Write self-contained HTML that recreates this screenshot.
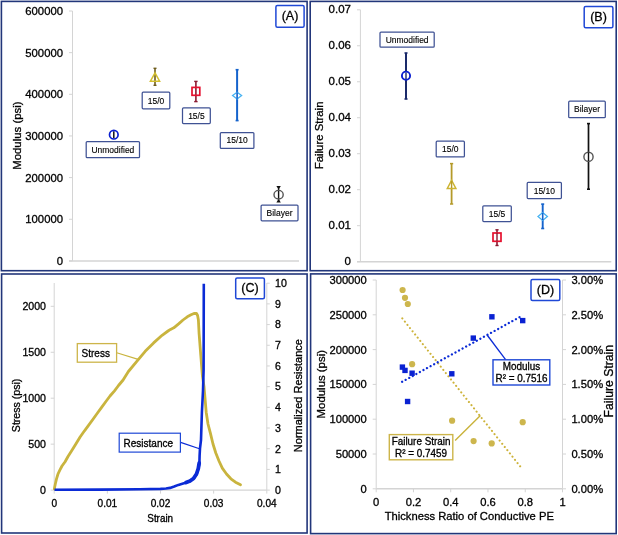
<!DOCTYPE html>
<html><head><meta charset="utf-8"><title>Figure</title>
<style>
html,body{margin:0;padding:0;background:#fff;width:618px;height:535px;overflow:hidden}
svg{display:block;font-family:"Liberation Sans", sans-serif;will-change:transform}
text{stroke:#000;stroke-width:0.3px;paint-order:stroke}
</style></head><body>
<svg width="618" height="535" viewBox="0 0 618 535">
<rect x="0" y="0" width="618" height="535" fill="#fff"/>
<rect x="1.4" y="1.4" width="305.7" height="269.3" fill="none" stroke="#22367a" stroke-width="1.6"/>
<rect x="310.2" y="1.4" width="306" height="269.3" fill="none" stroke="#22367a" stroke-width="1.6"/>
<rect x="1.6" y="274" width="305.5" height="259" fill="none" stroke="#22367a" stroke-width="1.6"/>
<rect x="310.6" y="273.9" width="305.6" height="259.7" fill="none" stroke="#22367a" stroke-width="1.6"/>
<line x1="72.5" y1="11.0" x2="72.5" y2="260.9" stroke="#d4d4d4" stroke-width="1" />
<line x1="69" y1="260.9" x2="299" y2="260.9" stroke="#d4d4d4" stroke-width="1.5" />
<line x1="69" y1="11.0" x2="72.5" y2="11.0" stroke="#d4d4d4" stroke-width="1" />
<text x="63" y="15.05" font-size="11.3" text-anchor="end" fill="#000" >600000</text>
<line x1="69" y1="52.65" x2="72.5" y2="52.65" stroke="#d4d4d4" stroke-width="1" />
<text x="63" y="56.7" font-size="11.3" text-anchor="end" fill="#000" >500000</text>
<line x1="69" y1="94.3" x2="72.5" y2="94.3" stroke="#d4d4d4" stroke-width="1" />
<text x="63" y="98.35" font-size="11.3" text-anchor="end" fill="#000" >400000</text>
<line x1="69" y1="135.95" x2="72.5" y2="135.95" stroke="#d4d4d4" stroke-width="1" />
<text x="63" y="140.0" font-size="11.3" text-anchor="end" fill="#000" >300000</text>
<line x1="69" y1="177.6" x2="72.5" y2="177.6" stroke="#d4d4d4" stroke-width="1" />
<text x="63" y="181.65" font-size="11.3" text-anchor="end" fill="#000" >200000</text>
<line x1="69" y1="219.25" x2="72.5" y2="219.25" stroke="#d4d4d4" stroke-width="1" />
<text x="63" y="223.3" font-size="11.3" text-anchor="end" fill="#000" >100000</text>
<line x1="69" y1="260.9" x2="72.5" y2="260.9" stroke="#d4d4d4" stroke-width="1" />
<text x="63" y="264.95" font-size="11.3" text-anchor="end" fill="#000" >0</text>
<text transform="translate(20.6,135.6) rotate(-90)" font-size="11.4" text-anchor="middle" fill="#000">Modulus (psi)</text>
<rect x="275.9" y="5.4" width="28.200000000000045" height="21.799999999999997" stroke="#1f48d6" stroke-width="1.5" fill="#fff" rx="1.5"/>
<text x="290.0" y="20.17" font-size="12.5" text-anchor="middle" fill="#000" >(A)</text>
<line x1="113.8" y1="131.2" x2="113.8" y2="138.2" stroke="#111" stroke-width="1.5" />
<circle cx="113.8" cy="134.7" r="4.3" fill="none" stroke="#0a1fd0" stroke-width="1.7"/>
<rect x="86.2" y="141.5" width="53.3" height="16.19999999999999" stroke="#3f5294" stroke-width="1.25" fill="#fff" rx="1"/>
<text transform="translate(112.85,152.64) scale(1,1.12)" font-size="8.5" text-anchor="middle" fill="#000" style="stroke-width:0.12px">Unmodified</text>
<line x1="155" y1="68.3" x2="155" y2="85.3" stroke="#6e5c1c" stroke-width="1.6" />
<line x1="153.5" y1="68.3" x2="156.5" y2="68.3" stroke="#6e5c1c" stroke-width="1.4" />
<line x1="153.5" y1="85.3" x2="156.5" y2="85.3" stroke="#6e5c1c" stroke-width="1.4" />
<polygon points="155,72.8 150.4,81.2 159.6,81.2" fill="none" stroke="#d3bf2e" stroke-width="1.5"/>
<rect x="142.2" y="92.2" width="27.600000000000023" height="16.599999999999994" stroke="#3f5294" stroke-width="1.25" fill="#fff" rx="1"/>
<text transform="translate(156.0,103.54) scale(1,1.12)" font-size="8.5" text-anchor="middle" fill="#000" style="stroke-width:0.12px">15/0</text>
<line x1="195.9" y1="81.4" x2="195.9" y2="101.6" stroke="#8a1a30" stroke-width="1.6" />
<line x1="194.2" y1="81.4" x2="197.6" y2="81.4" stroke="#8a1a30" stroke-width="1.4" />
<line x1="194.2" y1="101.6" x2="197.6" y2="101.6" stroke="#8a1a30" stroke-width="1.4" />
<rect x="192" y="87.4" width="7.8" height="7.9" fill="none" stroke="#e5102e" stroke-width="1.7"/>
<rect x="182.5" y="107.9" width="27.80000000000001" height="15.699999999999989" stroke="#3f5294" stroke-width="1.25" fill="#fff" rx="1"/>
<text transform="translate(196.4,118.79) scale(1,1.12)" font-size="8.5" text-anchor="middle" fill="#000" style="stroke-width:0.12px">15/5</text>
<line x1="237.1" y1="69.7" x2="237.1" y2="120.6" stroke="#1563cc" stroke-width="2" />
<line x1="235.6" y1="69.7" x2="238.6" y2="69.7" stroke="#1563cc" stroke-width="1.6" />
<line x1="235.6" y1="120.6" x2="238.6" y2="120.6" stroke="#1563cc" stroke-width="1.6" />
<polygon points="237.1,92.2 241.6,95.6 237.1,99 232.6,95.6" fill="#fff" stroke="#46b2f2" stroke-width="1.3"/>
<line x1="237.1" y1="92.5" x2="237.1" y2="98.7" stroke="#1563cc" stroke-width="1.6" />
<rect x="220.3" y="132.5" width="33.599999999999994" height="15.900000000000006" stroke="#3f5294" stroke-width="1.25" fill="#fff" rx="1"/>
<text transform="translate(237.10000000000002,143.49) scale(1,1.12)" font-size="8.5" text-anchor="middle" fill="#000" style="stroke-width:0.12px">15/10</text>
<line x1="278.6" y1="187.5" x2="278.6" y2="201.5" stroke="#111" stroke-width="1.4" />
<polygon points="276.4,186.1 280.8,186.1 278.6,189.6" fill="#111"/>
<polygon points="276.4,202.6 280.8,202.6 278.6,199.1" fill="#111"/>
<ellipse cx="278.6" cy="194.7" rx="4.6" ry="4.3" fill="none" stroke="#555" stroke-width="1.4"/>
<rect x="261.1" y="205.1" width="36.89999999999998" height="15.700000000000017" stroke="#3f5294" stroke-width="1.25" fill="#fff" rx="1"/>
<text transform="translate(279.55,215.99) scale(1,1.12)" font-size="8.5" text-anchor="middle" fill="#000" style="stroke-width:0.12px">Bilayer</text>
<line x1="360.4" y1="9.8" x2="360.4" y2="261.65999999999997" stroke="#d4d4d4" stroke-width="1" />
<line x1="357" y1="261.65999999999997" x2="611.3" y2="261.65999999999997" stroke="#d4d4d4" stroke-width="1.5" />
<line x1="357" y1="9.8" x2="360.4" y2="9.8" stroke="#d4d4d4" stroke-width="1" />
<text x="351" y="13.1" font-size="11.5" text-anchor="end" fill="#000" >0.07</text>
<line x1="357" y1="45.78" x2="360.4" y2="45.78" stroke="#d4d4d4" stroke-width="1" />
<text x="351" y="49.08" font-size="11.5" text-anchor="end" fill="#000" >0.06</text>
<line x1="357" y1="81.75999999999999" x2="360.4" y2="81.75999999999999" stroke="#d4d4d4" stroke-width="1" />
<text x="351" y="85.06" font-size="11.5" text-anchor="end" fill="#000" >0.05</text>
<line x1="357" y1="117.74" x2="360.4" y2="117.74" stroke="#d4d4d4" stroke-width="1" />
<text x="351" y="121.04" font-size="11.5" text-anchor="end" fill="#000" >0.04</text>
<line x1="357" y1="153.72" x2="360.4" y2="153.72" stroke="#d4d4d4" stroke-width="1" />
<text x="351" y="157.02" font-size="11.5" text-anchor="end" fill="#000" >0.03</text>
<line x1="357" y1="189.7" x2="360.4" y2="189.7" stroke="#d4d4d4" stroke-width="1" />
<text x="351" y="193.0" font-size="11.5" text-anchor="end" fill="#000" >0.02</text>
<line x1="357" y1="225.68" x2="360.4" y2="225.68" stroke="#d4d4d4" stroke-width="1" />
<text x="351" y="228.98" font-size="11.5" text-anchor="end" fill="#000" >0.01</text>
<line x1="357" y1="261.65999999999997" x2="360.4" y2="261.65999999999997" stroke="#d4d4d4" stroke-width="1" />
<text x="351" y="264.96" font-size="11.5" text-anchor="end" fill="#000" >0</text>
<text transform="translate(322.7,135.4) rotate(-90)" font-size="11.4" text-anchor="middle" fill="#000">Failure Strain</text>
<rect x="584.2" y="6.6" width="28.699999999999932" height="21.1" stroke="#1f48d6" stroke-width="1.5" fill="#fff" rx="1.5"/>
<text x="598.55" y="21.02" font-size="12.5" text-anchor="middle" fill="#000" >(B)</text>
<line x1="406" y1="53" x2="406" y2="99" stroke="#1a2a6a" stroke-width="2" />
<line x1="404.5" y1="53" x2="407.5" y2="53" stroke="#1a2a6a" stroke-width="1.6" />
<line x1="404.5" y1="99" x2="407.5" y2="99" stroke="#1a2a6a" stroke-width="1.6" />
<circle cx="406" cy="75.7" r="4.1" fill="#fff" stroke="#0a1fd0" stroke-width="1.9"/>
<line x1="406" y1="72.5" x2="406" y2="79" stroke="#1a2a6a" stroke-width="1.4" />
<rect x="380" y="32" width="54.19999999999999" height="15.200000000000003" stroke="#3f5294" stroke-width="1.25" fill="#fff" rx="1"/>
<text transform="translate(407.1,42.64) scale(1,1.12)" font-size="8.5" text-anchor="middle" fill="#000" style="stroke-width:0.12px">Unmodified</text>
<line x1="451.6" y1="163.6" x2="451.6" y2="204" stroke="#b49a2a" stroke-width="1.8" />
<line x1="450" y1="163.6" x2="453.2" y2="163.6" stroke="#b49a2a" stroke-width="1.5" />
<line x1="450" y1="204" x2="453.2" y2="204" stroke="#b49a2a" stroke-width="1.5" />
<polygon points="451.6,180.3 447.3,188.5 455.9,188.5" fill="#fff" stroke="#cdb433" stroke-width="1.5"/>
<line x1="451.6" y1="181" x2="451.6" y2="188" stroke="#b49a2a" stroke-width="1.4" />
<rect x="436.2" y="141.2" width="28.19999999999999" height="15.700000000000017" stroke="#3f5294" stroke-width="1.25" fill="#fff" rx="1"/>
<text transform="translate(450.29999999999995,152.09) scale(1,1.12)" font-size="8.5" text-anchor="middle" fill="#000" style="stroke-width:0.12px">15/0</text>
<line x1="497" y1="229.8" x2="497" y2="245.5" stroke="#8a1a30" stroke-width="1.6" />
<line x1="495.4" y1="229.8" x2="498.6" y2="229.8" stroke="#8a1a30" stroke-width="1.4" />
<line x1="495.4" y1="245.5" x2="498.6" y2="245.5" stroke="#8a1a30" stroke-width="1.4" />
<rect x="493" y="233" width="8" height="8.3" fill="#fff" stroke="#e5102e" stroke-width="1.7"/>
<line x1="497" y1="233" x2="497" y2="241.3" stroke="#8a1a30" stroke-width="1.4" />
<rect x="482.8" y="205.8" width="28.5" height="15.699999999999989" stroke="#3f5294" stroke-width="1.25" fill="#fff" rx="1"/>
<text transform="translate(497.05,216.69) scale(1,1.12)" font-size="8.5" text-anchor="middle" fill="#000" style="stroke-width:0.12px">15/5</text>
<line x1="542.7" y1="204.1" x2="542.7" y2="228.5" stroke="#1563cc" stroke-width="1.9" />
<line x1="541.2" y1="204.1" x2="544.2" y2="204.1" stroke="#1563cc" stroke-width="1.6" />
<line x1="541.2" y1="228.5" x2="544.2" y2="228.5" stroke="#1563cc" stroke-width="1.6" />
<polygon points="542.7,212.5 547.4,216.5 542.7,220.5 538,216.5" fill="#fff" stroke="#46b2f2" stroke-width="1.3"/>
<line x1="542.7" y1="212.8" x2="542.7" y2="220.2" stroke="#1563cc" stroke-width="1.6" />
<rect x="527.2" y="182.4" width="34.19999999999993" height="16.19999999999999" stroke="#3f5294" stroke-width="1.25" fill="#fff" rx="1"/>
<text transform="translate(544.3,193.54) scale(1,1.12)" font-size="8.5" text-anchor="middle" fill="#000" style="stroke-width:0.12px">15/10</text>
<line x1="588.5" y1="123.6" x2="588.5" y2="189.2" stroke="#111" stroke-width="1.7" />
<line x1="587" y1="123.6" x2="590" y2="123.6" stroke="#111" stroke-width="1.6" />
<line x1="587" y1="189.2" x2="590" y2="189.2" stroke="#111" stroke-width="1.6" />
<circle cx="588.5" cy="156.8" r="4.6" fill="#fff" stroke="#555" stroke-width="1.4"/>
<line x1="588.5" y1="152.5" x2="588.5" y2="161" stroke="#111" stroke-width="1.4" />
<rect x="568.7" y="101.2" width="36.59999999999991" height="16.5" stroke="#3f5294" stroke-width="1.25" fill="#fff" rx="1"/>
<text transform="translate(587.0,112.49) scale(1,1.12)" font-size="8.5" text-anchor="middle" fill="#000" style="stroke-width:0.12px">Bilayer</text>
<line x1="54.2" y1="283" x2="54.2" y2="490.1" stroke="#d4d4d4" stroke-width="1" />
<line x1="266.8" y1="283" x2="266.8" y2="490.1" stroke="#d4d4d4" stroke-width="1" />
<line x1="54.2" y1="490.1" x2="266.8" y2="490.1" stroke="#d4d4d4" stroke-width="1.4" />
<line x1="50.7" y1="490.1" x2="54.2" y2="490.1" stroke="#d4d4d4" stroke-width="1" />
<text x="46" y="493.9" font-size="10.6" text-anchor="end" fill="#000" >0</text>
<line x1="50.7" y1="444.15000000000003" x2="54.2" y2="444.15000000000003" stroke="#d4d4d4" stroke-width="1" />
<text x="46" y="447.95" font-size="10.6" text-anchor="end" fill="#000" >500</text>
<line x1="50.7" y1="398.20000000000005" x2="54.2" y2="398.20000000000005" stroke="#d4d4d4" stroke-width="1" />
<text x="46" y="402.0" font-size="10.6" text-anchor="end" fill="#000" >1000</text>
<line x1="50.7" y1="352.25" x2="54.2" y2="352.25" stroke="#d4d4d4" stroke-width="1" />
<text x="46" y="356.05" font-size="10.6" text-anchor="end" fill="#000" >1500</text>
<line x1="50.7" y1="306.3" x2="54.2" y2="306.3" stroke="#d4d4d4" stroke-width="1" />
<text x="46" y="310.1" font-size="10.6" text-anchor="end" fill="#000" >2000</text>
<line x1="266.8" y1="490.1" x2="269.8" y2="490.1" stroke="#d4d4d4" stroke-width="1" />
<text x="275" y="493.9" font-size="10.6" text-anchor="start" fill="#000" >0</text>
<line x1="266.8" y1="469.41" x2="269.8" y2="469.41" stroke="#d4d4d4" stroke-width="1" />
<text x="275" y="473.21" font-size="10.6" text-anchor="start" fill="#000" >1</text>
<line x1="266.8" y1="448.72" x2="269.8" y2="448.72" stroke="#d4d4d4" stroke-width="1" />
<text x="275" y="452.52" font-size="10.6" text-anchor="start" fill="#000" >2</text>
<line x1="266.8" y1="428.03000000000003" x2="269.8" y2="428.03000000000003" stroke="#d4d4d4" stroke-width="1" />
<text x="275" y="431.83" font-size="10.6" text-anchor="start" fill="#000" >3</text>
<line x1="266.8" y1="407.34000000000003" x2="269.8" y2="407.34000000000003" stroke="#d4d4d4" stroke-width="1" />
<text x="275" y="411.14" font-size="10.6" text-anchor="start" fill="#000" >4</text>
<line x1="266.8" y1="386.65" x2="269.8" y2="386.65" stroke="#d4d4d4" stroke-width="1" />
<text x="275" y="390.45" font-size="10.6" text-anchor="start" fill="#000" >5</text>
<line x1="266.8" y1="365.96" x2="269.8" y2="365.96" stroke="#d4d4d4" stroke-width="1" />
<text x="275" y="369.76" font-size="10.6" text-anchor="start" fill="#000" >6</text>
<line x1="266.8" y1="345.27" x2="269.8" y2="345.27" stroke="#d4d4d4" stroke-width="1" />
<text x="275" y="349.07" font-size="10.6" text-anchor="start" fill="#000" >7</text>
<line x1="266.8" y1="324.58" x2="269.8" y2="324.58" stroke="#d4d4d4" stroke-width="1" />
<text x="275" y="328.38" font-size="10.6" text-anchor="start" fill="#000" >8</text>
<line x1="266.8" y1="303.89" x2="269.8" y2="303.89" stroke="#d4d4d4" stroke-width="1" />
<text x="275" y="307.69" font-size="10.6" text-anchor="start" fill="#000" >9</text>
<line x1="266.8" y1="283.2" x2="269.8" y2="283.2" stroke="#d4d4d4" stroke-width="1" />
<text x="275" y="287.0" font-size="10.6" text-anchor="start" fill="#000" >10</text>
<line x1="54.2" y1="490.1" x2="54.2" y2="493.6" stroke="#d4d4d4" stroke-width="1" />
<text x="54.2" y="507.2" font-size="10.1" text-anchor="middle" fill="#000" >0</text>
<line x1="107.35000000000001" y1="490.1" x2="107.35000000000001" y2="493.6" stroke="#d4d4d4" stroke-width="1" />
<text x="107.35" y="507.2" font-size="10.1" text-anchor="middle" fill="#000" >0.01</text>
<line x1="160.5" y1="490.1" x2="160.5" y2="493.6" stroke="#d4d4d4" stroke-width="1" />
<text x="160.5" y="507.2" font-size="10.1" text-anchor="middle" fill="#000" >0.02</text>
<line x1="213.65000000000003" y1="490.1" x2="213.65000000000003" y2="493.6" stroke="#d4d4d4" stroke-width="1" />
<text x="213.65" y="507.2" font-size="10.1" text-anchor="middle" fill="#000" >0.03</text>
<line x1="266.8" y1="490.1" x2="266.8" y2="493.6" stroke="#d4d4d4" stroke-width="1" />
<text x="266.8" y="507.2" font-size="10.1" text-anchor="middle" fill="#000" >0.04</text>
<text transform="translate(160.2,522.3) scale(1,1.1)" font-size="9.9" text-anchor="middle" fill="#000" >Strain</text>
<text transform="translate(20.2,405.4) rotate(-90)" font-size="10.6" text-anchor="middle" fill="#000">Stress (psi)</text>
<text transform="translate(302.4,395.6) rotate(-90)" font-size="11" text-anchor="middle" fill="#000">Normalized Resistance</text>
<rect x="235.7" y="278" width="28.69999999999999" height="20.80000000000001" stroke="#1f48d6" stroke-width="1.5" fill="#fff" rx="1.5"/>
<text x="250.04999999999998" y="292.27" font-size="12.5" text-anchor="middle" fill="#000" >(C)</text>
<polyline fill="none" stroke="#c9b43e" stroke-width="2.8" stroke-linejoin="round" stroke-linecap="round" points="54.3,489 55.3,484 56.5,478.9 58,474 59.7,470.3 62,466 65.1,461.7 68,456.5 71.5,451 76,443.7 80.1,437 84.5,430.8 88.7,425.2 93,419.2 97.3,413.3 101.6,407.4 105.9,401.5 110,396 114.5,390.8 118.5,385.5 123.1,380 128.4,371.5 136.8,361.4 145.2,351.3 153.6,342.9 162.1,335.3 168,331 170.5,329.4 173.8,327.8 178.9,323.6 183,320 187.3,316.8 191,314.8 194,313.5 196.5,313.5 197.6,315.5 198.4,320 199.1,333.6 200.8,355.5 202.4,375.7 204,386.4 206.2,412.2 208,424 210.5,433.7 213,444 215.8,453 219,461 222.3,468.1 226.5,474 230.9,478.8 235.5,482.2 240.5,484.8"/>
<polyline fill="none" stroke="#0b2bd6" stroke-width="2.6" stroke-linejoin="round" points="54.5,489.8 100,489.6 140,489.3 160.5,488.9 166,488.5 170,487.9 174.2,486.5 178.4,484.9 184.7,483.1 190,481 194.2,477.9 196.8,473.7 198.4,468.4 199.4,463.1 199.6,455.8 200,448.4 201,440 201.9,412.2 203,390.7 203.6,370 203.8,283.8"/>
<polyline fill="none" stroke="#0b2bd6" stroke-width="3.8" stroke-linejoin="round" stroke-linecap="round" points="186,482.5 190,481 193.5,478.5 196.5,474 198.3,468.5 199.2,463"/>
<line x1="116.7" y1="352.8" x2="139" y2="359.6" stroke="#c9b43e" stroke-width="1.2" />
<rect x="77.3" y="343.6" width="39.3" height="18.6" stroke="#cdb54a" stroke-width="1.3" fill="#fff" rx="0"/>
<text transform="translate(95.75,356.8) scale(1,1.08)" font-size="10" text-anchor="middle" fill="#000" >Stress</text>
<line x1="180.6" y1="442.4" x2="200.2" y2="449" stroke="#0b2bd6" stroke-width="1.2" />
<rect x="119.2" y="433.2" width="61.2" height="18.9" stroke="#1f48d6" stroke-width="1.2" fill="#fff" rx="0"/>
<text transform="translate(148.3,446.8) scale(1,1.08)" font-size="10" text-anchor="middle" fill="#000" >Resistance</text>
<line x1="376.2" y1="280.0" x2="376.2" y2="488.8" stroke="#d4d4d4" stroke-width="1" />
<line x1="562.5" y1="280.0" x2="562.5" y2="488.8" stroke="#d4d4d4" stroke-width="1" />
<line x1="376.2" y1="488.8" x2="562.5" y2="488.8" stroke="#d4d4d4" stroke-width="1.4" />
<line x1="372.7" y1="488.8" x2="376.2" y2="488.8" stroke="#d4d4d4" stroke-width="1" />
<line x1="562.5" y1="488.8" x2="566.0" y2="488.8" stroke="#d4d4d4" stroke-width="1" />
<text x="366.8" y="492.85" font-size="11.2" text-anchor="end" fill="#000" >0</text>
<text x="571.4" y="492.85" font-size="11.2" text-anchor="start" fill="#000" >0.00%</text>
<line x1="372.7" y1="454.0" x2="376.2" y2="454.0" stroke="#d4d4d4" stroke-width="1" />
<line x1="562.5" y1="454.0" x2="566.0" y2="454.0" stroke="#d4d4d4" stroke-width="1" />
<text x="366.8" y="458.05" font-size="11.2" text-anchor="end" fill="#000" >50000</text>
<text x="571.4" y="458.05" font-size="11.2" text-anchor="start" fill="#000" >0.50%</text>
<line x1="372.7" y1="419.2" x2="376.2" y2="419.2" stroke="#d4d4d4" stroke-width="1" />
<line x1="562.5" y1="419.2" x2="566.0" y2="419.2" stroke="#d4d4d4" stroke-width="1" />
<text x="366.8" y="423.25" font-size="11.2" text-anchor="end" fill="#000" >100000</text>
<text x="571.4" y="423.25" font-size="11.2" text-anchor="start" fill="#000" >1.00%</text>
<line x1="372.7" y1="384.4" x2="376.2" y2="384.4" stroke="#d4d4d4" stroke-width="1" />
<line x1="562.5" y1="384.4" x2="566.0" y2="384.4" stroke="#d4d4d4" stroke-width="1" />
<text x="366.8" y="388.45" font-size="11.2" text-anchor="end" fill="#000" >150000</text>
<text x="571.4" y="388.45" font-size="11.2" text-anchor="start" fill="#000" >1.50%</text>
<line x1="372.7" y1="349.6" x2="376.2" y2="349.6" stroke="#d4d4d4" stroke-width="1" />
<line x1="562.5" y1="349.6" x2="566.0" y2="349.6" stroke="#d4d4d4" stroke-width="1" />
<text x="366.8" y="353.65" font-size="11.2" text-anchor="end" fill="#000" >200000</text>
<text x="571.4" y="353.65" font-size="11.2" text-anchor="start" fill="#000" >2.00%</text>
<line x1="372.7" y1="314.79999999999995" x2="376.2" y2="314.79999999999995" stroke="#d4d4d4" stroke-width="1" />
<line x1="562.5" y1="314.79999999999995" x2="566.0" y2="314.79999999999995" stroke="#d4d4d4" stroke-width="1" />
<text x="366.8" y="318.85" font-size="11.2" text-anchor="end" fill="#000" >250000</text>
<text x="571.4" y="318.85" font-size="11.2" text-anchor="start" fill="#000" >2.50%</text>
<line x1="372.7" y1="280.0" x2="376.2" y2="280.0" stroke="#d4d4d4" stroke-width="1" />
<line x1="562.5" y1="280.0" x2="566.0" y2="280.0" stroke="#d4d4d4" stroke-width="1" />
<text x="366.8" y="284.05" font-size="11.2" text-anchor="end" fill="#000" >300000</text>
<text x="571.4" y="284.05" font-size="11.2" text-anchor="start" fill="#000" >3.00%</text>
<line x1="376.2" y1="488.8" x2="376.2" y2="492.3" stroke="#d4d4d4" stroke-width="1" />
<text x="376.2" y="506.1" font-size="11.2" text-anchor="middle" fill="#000" >0</text>
<line x1="413.46" y1="488.8" x2="413.46" y2="492.3" stroke="#d4d4d4" stroke-width="1" />
<text x="413.46" y="506.1" font-size="11.2" text-anchor="middle" fill="#000" >0.2</text>
<line x1="450.72" y1="488.8" x2="450.72" y2="492.3" stroke="#d4d4d4" stroke-width="1" />
<text x="450.72" y="506.1" font-size="11.2" text-anchor="middle" fill="#000" >0.4</text>
<line x1="487.98" y1="488.8" x2="487.98" y2="492.3" stroke="#d4d4d4" stroke-width="1" />
<text x="487.98" y="506.1" font-size="11.2" text-anchor="middle" fill="#000" >0.6</text>
<line x1="525.24" y1="488.8" x2="525.24" y2="492.3" stroke="#d4d4d4" stroke-width="1" />
<text x="525.24" y="506.1" font-size="11.2" text-anchor="middle" fill="#000" >0.8</text>
<line x1="562.5" y1="488.8" x2="562.5" y2="492.3" stroke="#d4d4d4" stroke-width="1" />
<text x="562.5" y="506.1" font-size="11.2" text-anchor="middle" fill="#000" >1</text>
<text x="469.3" y="520.3" font-size="11.2" text-anchor="middle" fill="#000" >Thickness Ratio of Conductive PE</text>
<text transform="translate(325.2,384.2) rotate(-90)" font-size="11.4" text-anchor="middle" fill="#000">Modulus (psi)</text>
<text transform="translate(612.6,381.2) rotate(-90)" font-size="12.2" text-anchor="middle" fill="#000">Failure Strain</text>
<rect x="531" y="279.4" width="28.799999999999955" height="21.200000000000045" stroke="#1f48d6" stroke-width="1.5" fill="#fff" rx="1.5"/>
<text x="545.4" y="293.88" font-size="12.5" text-anchor="middle" fill="#000" >(D)</text>
<line x1="402.3" y1="318.4" x2="522.3" y2="469" stroke="#cdb33a" stroke-width="2.1" stroke-linecap="round" stroke-dasharray="0.01 4.1"/>
<line x1="402.1" y1="381.8" x2="522.7" y2="315.4" stroke="#0b2bd6" stroke-width="2.3" stroke-linecap="round" stroke-dasharray="0.01 4.05"/>
<line x1="455.1" y1="440.4" x2="480.4" y2="415.6" stroke="#c9b23a" stroke-width="1.4" />
<line x1="487.1" y1="335" x2="505.8" y2="359.9" stroke="#0b2bd6" stroke-width="1.3" />
<circle cx="402.6" cy="290" r="3.1" fill="#cdb64d"/>
<circle cx="405" cy="297.8" r="3.1" fill="#cdb64d"/>
<circle cx="407.8" cy="304" r="3.1" fill="#cdb64d"/>
<circle cx="412.1" cy="364.2" r="3.1" fill="#cdb64d"/>
<circle cx="452.1" cy="420.7" r="3.1" fill="#cdb64d"/>
<circle cx="473.6" cy="441.1" r="3.1" fill="#cdb64d"/>
<circle cx="491.7" cy="443.4" r="3.1" fill="#cdb64d"/>
<circle cx="522.7" cy="422.2" r="3.1" fill="#cdb64d"/>
<rect x="399.7" y="364.40000000000003" width="5.4" height="5.4" fill="#0a22d2"/>
<rect x="402.3" y="367.7" width="5.4" height="5.4" fill="#0a22d2"/>
<rect x="409.40000000000003" y="370.5" width="5.4" height="5.4" fill="#0a22d2"/>
<rect x="404.90000000000003" y="398.8" width="5.4" height="5.4" fill="#0a22d2"/>
<rect x="449.1" y="371.1" width="5.4" height="5.4" fill="#0a22d2"/>
<rect x="470.6" y="335.40000000000003" width="5.4" height="5.4" fill="#0a22d2"/>
<rect x="489.2" y="314.1" width="5.4" height="5.4" fill="#0a22d2"/>
<rect x="520.0" y="317.90000000000003" width="5.4" height="5.4" fill="#0a22d2"/>
<rect x="389.3" y="434.6" width="63.5" height="25.2" stroke="#cdb54a" stroke-width="1.4" fill="#fff" rx="0"/>
<text transform="translate(421.05,445.3) scale(1,1.08)" font-size="9.9" text-anchor="middle" fill="#000" >Failure Strain</text>
<text transform="translate(421.05,456.5) scale(1,1.08)" font-size="9.9" text-anchor="middle" fill="#000" >R² = 0.7459</text>
<rect x="493" y="359.8" width="56.8" height="25.2" stroke="#1f48d6" stroke-width="1.4" fill="#fff" rx="0"/>
<text transform="translate(521.5,370.2) scale(1,1.08)" font-size="9.9" text-anchor="middle" fill="#000" >Modulus</text>
<text transform="translate(521.5,381.9) scale(1,1.08)" font-size="9.9" text-anchor="middle" fill="#000" >R² = 0.7516</text>
</svg>
</body></html>
